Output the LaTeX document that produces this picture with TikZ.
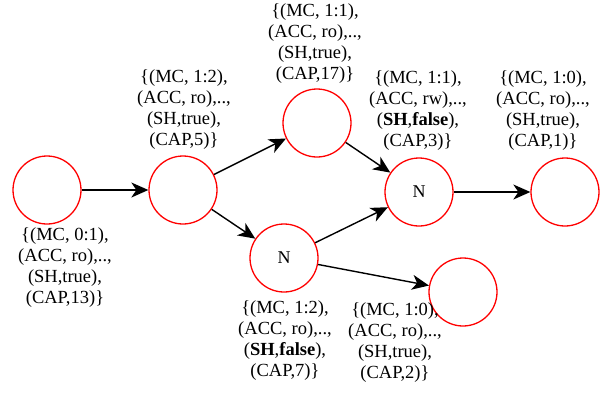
\documentclass[tikz,border=0pt]{standalone}
\usepackage{fontspec}
\setmainfont{Liberation Serif}
\usepackage{tikz}
\usetikzlibrary{arrows.meta}

\tikzset{
	state/.style={circle, draw=red, line width=1.3pt, minimum size=68pt, inner sep=0pt, font=\fontsize{18}{20}\selectfont},
	info/.style={align=center, inner sep=0pt, font=\fontsize{18.5}{21}\selectfont},
	trans/.style={-{Stealth[length=17pt,width=15pt,inset=5pt]}, line width=1.4pt}
}

\begin{document}
\begin{tikzpicture}[x=1pt,y=-1pt]
		\useasboundingbox (0,0) rectangle (611,394);

		\node[state] (S0) at (47,190) {};
		\node[state] (S1) at (183,190) {};
		\node[state] (S2) at (317,123) {};
		\node[state] (S3) at (419,192) {N};
		\node[state] (S4) at (565,192) {};
		\node[state] (S5) at (284,258) {N};
		\node[state] (S6) at (463,292) {};

		\node[info] (L0) at (65,268) {\{(MC, 0:1),\\(ACC, ro),..,\\(SH,true),\\(CAP,13)\}};
		\node[info] (L1) at (184,110) {\{(MC, 1:2),\\(ACC, ro),..,\\(SH,true),\\(CAP,5)\}};
		\node[info] (L2) at (315,44) {\{(MC, 1:1),\\(ACC, ro),..,\\(SH,true),\\(CAP,17)\}};
		\node[info] (L3) at (418,111) {\{(MC, 1:1),\\(ACC, rw),..,\\(\textbf{SH},\textbf{false}),\\(CAP,3)\}};
		\node[info] (L4) at (543,111) {\{(MC, 1:0),\\(ACC, ro),..,\\(SH,true),\\(CAP,1)\}};
		\node[info] (L5) at (285,341) {\{(MC, 1:2),\\(ACC, ro),..,\\(\textbf{SH},\textbf{false}),\\(CAP,7)\}};
		\node[info] (L6) at (395,343) {\{(MC, 1:0),\\(ACC, ro),..,\\(SH,true),\\(CAP,2)\}};

		\draw [trans] (S0) -- (S1);
		\draw [trans] (S1) -- (S2);
		\draw [trans] (S1) -- (S5);
		\draw [trans] (S2) -- (S3);
		\draw [trans] (S5) -- (S3);
		\draw [trans] (S5) -- (S6);
		\draw [trans] (S3) -- (S4);
	\end{tikzpicture}
\end{document}
